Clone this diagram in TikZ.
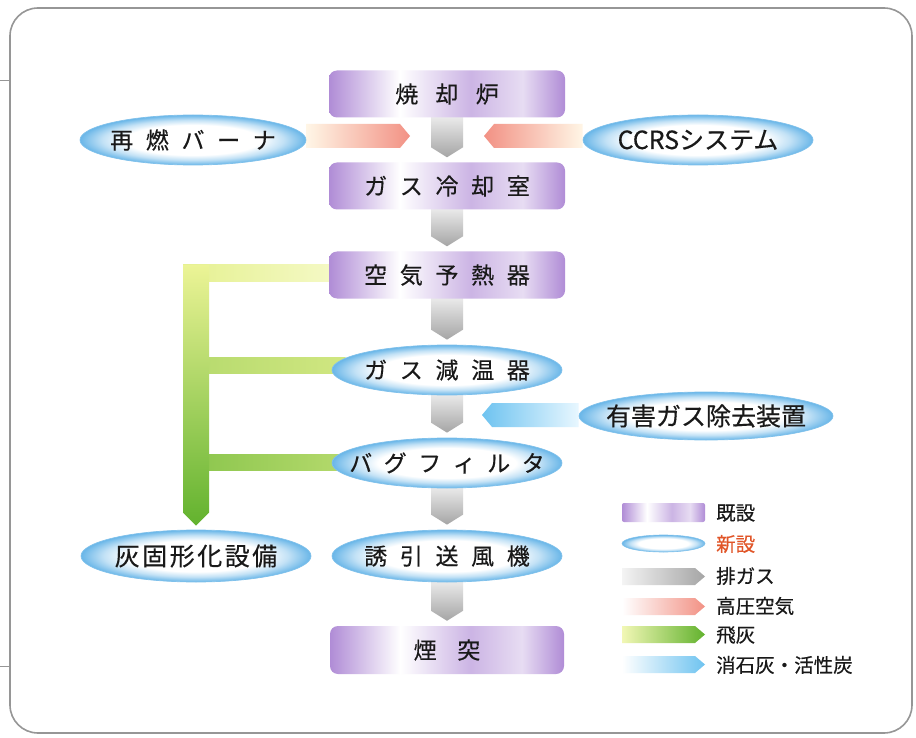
\documentclass[tikz,border=0pt]{standalone}
\usepackage{fontspec}
\setmainfont{Noto Sans CJK JP}[FakeBold=0.35]
\usetikzlibrary{shapes.geometric,calc,backgrounds}
\definecolor{pur}{RGB}{176,140,214}
\definecolor{ellb}{RGB}{105,182,232}
\definecolor{pinkc}{RGB}{242,145,132}
\definecolor{pinkl}{RGB}{255,246,230}
\definecolor{grnd}{RGB}{98,178,46}
\definecolor{grnl}{RGB}{236,244,150}
\definecolor{bluec}{RGB}{110,195,240}
\definecolor{bluel}{RGB}{232,247,255}
\definecolor{grayl}{RGB}{236,236,236}
\definecolor{grayd}{RGB}{165,165,165}
\definecolor{framec}{RGB}{150,150,150}
\definecolor{txt}{RGB}{25,25,25}
\definecolor{newc}{RGB}{225,85,40}
\pgfdeclarehorizontalshading{purp}{100bp}{color(0bp)=(pur); color(25bp)=(pur); color(40bp)=(white); color(55bp)=(pur!65); color(66bp)=(pur!30); color(75bp)=(pur); color(100bp)=(pur)}
\pgfdeclareradialshading{ellsh}{\pgfpoint{0bp}{0bp}}{color(0bp)=(white); color(15bp)=(white); color(20bp)=(ellb!40); color(25bp)=(ellb); color(50bp)=(ellb)}
\tikzset{
  oldbox/.style={rectangle, rounded corners=8pt, minimum width=236pt, minimum height=47pt, inner sep=0pt, shading=purp},
  newbox/.style={ellipse, minimum width=230pt, minimum height=50pt, inner sep=0pt, shading=ellsh, draw=ellb!85, line width=0.7pt},
  lbl/.style={text=txt, inner sep=0pt, font=\fontsize{23}{26}\selectfont},
  lblw/.style={text=txt, inner sep=0pt, font=\fontsize{25}{28}\selectfont},
  legtxt/.style={text=txt, inner sep=0pt, anchor=west, font=\fontsize{19.5}{22}\selectfont},
  gasfill/.style={top color=grayl, bottom color=grayd},
  pinkR/.style={left color=pinkl, right color=pinkc},
  pinkL/.style={left color=pinkc, right color=pinkl},
  blueL/.style={left color=bluec, right color=bluel},
}
% vertical exhaust-gas arrow between two nodes
\newcommand\gasarrow[2]{%
  \path[gasfill] ($(#1.south)+(-16,-2)$) -- ($(#1.south)+(16,-2)$) -- ($(#2.north)+(16,-15)$)
    -- ($(#2.north)+(0,-5)$) -- ($(#2.north)+(-16,-15)$) -- cycle;}
% horizontal arrow: #1 tail, #2 tip, #3 style, #4 signed tip depth
\newcommand\harrow[4]{%
  \path[#3] ($(#1)+(0,-12)$) -- ($(#2)+({-(#4)},-12)$) -- (#2) -- ($(#2)+({-(#4)},12)$) -- ($(#1)+(0,12)$) -- cycle;}
% legend arrow at height #1
\newcommand\legarrow[2]{%
  \path[#2] (622,{#1-8.5}) -- (695,{#1-8.5}) -- (705,#1) -- (695,{#1+8.5}) -- (622,{#1+8.5}) -- cycle;}
\begin{document}
\begin{tikzpicture}[x=1pt,y=-1pt]
\useasboundingbox (0,0) rectangle (916,738);
% ---------- main column ----------
\node[oldbox] (inc) at (447,94) {};
\node[lbl] (inct) at (inc) {焼\hspace{0.75em}却\hspace{0.75em}炉};
\node[oldbox] (cool) at (447,186) {};
\node[lbl] (coolt) at (cool) {ガ\hspace{0.55em}ス\hspace{0.55em}冷\hspace{0.55em}却\hspace{0.55em}室};
\node[oldbox] (aph) at (447,275) {};
\node[lbl] (apht) at (aph) {空\hspace{0.55em}気\hspace{0.55em}予\hspace{0.55em}熱\hspace{0.55em}器};
\node[newbox] (gtc) at (447,370) {};
\node[lbl] (gtct) at (gtc) {ガ\hspace{0.55em}ス\hspace{0.55em}減\hspace{0.55em}温\hspace{0.55em}器};
\node[newbox] (bf) at (447,463) {};
\node[lbl] (bft) at (bf) {バ\hspace{0.5em}グ\hspace{0.5em}フ\hspace{0.5em}ィ\hspace{0.5em}ル\hspace{0.5em}タ};
\node[newbox, minimum height=52pt] (idf) at (447,556) {};
\node[lbl] (idft) at (idf) {誘\hspace{0.55em}引\hspace{0.55em}送\hspace{0.55em}風\hspace{0.55em}機};
\node[oldbox, minimum width=234pt, minimum height=48pt] (stack) at (447,650) {};
\node[lbl] (stackt) at (stack) {煙\hspace{0.9em}突};
% ---------- side nodes ----------
\node[newbox, minimum width=226pt] (burner) at (193,140) {};
\node[lbl] (burnert) at (burner) {再\hspace{0.55em}燃\hspace{0.55em}バ\hspace{0.55em}ー\hspace{0.55em}ナ};
\node[newbox] (ccrs) at (698,140) {};
\node[lblw] (ccrst) at (ccrs) {CCRSシステム};
\node[newbox, minimum width=254pt, minimum height=48pt] (hgr) at (706,416) {};
\node[lblw] (hgrt) at (hgr) {有害ガス除去装置};
\node[newbox, minimum height=52pt] (ash) at (196,556) {};
\node[lblw] (asht) at (ash) {灰\hspace{0.1em}固\hspace{0.1em}形\hspace{0.1em}化\hspace{0.1em}設\hspace{0.1em}備};
% ---------- legend ----------
\node[oldbox, minimum width=83pt, minimum height=19pt, rounded corners=2pt] (lg1) at (663.5,512.5) {};
\node[legtxt] (lg1t) at (716,513) {既設};
\node[newbox, minimum width=83pt, minimum height=17pt, line width=0.6pt] (lg2) at (663.5,543.5) {};
\node[legtxt, text=newc] (lg2t) at (716,544) {新設};
\node[legtxt] (lg3t) at (716,576) {排ガス};
\node[legtxt] (lg4t) at (716,606) {高圧空気};
\node[legtxt] (lg5t) at (716,635) {飛灰};
\node[legtxt] (lg6t) at (716,665) {消石灰・活性炭};
% ---------- connectors (behind nodes) ----------
\coordinate (pkL) at (410,136);
\coordinate (pkL0) at (burner.east |- pkL);
\coordinate (pkR) at (484,136);
\coordinate (pkR0) at (ccrs.west |- pkR);
\coordinate (blT) at (482,415);
\coordinate (blT0) at (hgr.west |- blT);
\coordinate (gTip) at ($(ash.north)+(0,-4)$);
\begin{scope}[on background layer]
  \fill[white] (0,0) rectangle (916,738);
  \draw[framec, line width=1.6pt, rounded corners=28pt] (10,8) rectangle (912,733);
  \draw[framec, line width=0.8pt] (0,80) -- (10,80);
  \draw[framec, line width=0.8pt] (0,666) -- (10,666);
  % exhaust gas
  \gasarrow{inc}{cool}
  \gasarrow{cool}{aph}
  \gasarrow{aph}{gtc}
  \gasarrow{gtc}{bf}
  \gasarrow{bf}{idf}
  \gasarrow{idf}{stack}
  % high-pressure air
  \harrow{pkL0}{pkL}{pinkR}{10}
  \harrow{pkR0}{pkR}{pinkL}{-10}
  % slaked lime / activated carbon
  \harrow{blT0}{blT}{blueL}{-10}
  % fly ash
  \path[left color=grnl!95!grnd, right color=grnl!55!white] (183,265) rectangle ($(aph.west)+(4,7)$);
  \path[left color=grnd!40!grnl, right color=grnd!20!grnl] (183,357) rectangle ($(gtc.west)+(14,3)$);
  \path[left color=grnd!72!grnl, right color=grnd!40!grnl] (183,454) rectangle ($(bf.west)+(14,7)$);
  \path[top color=grnl, bottom color=grnd] (183,265) -- (209,265) -- ($(gTip)+(13,-13)$) -- (gTip) -- ($(gTip)+(-13,-13)$) -- cycle;
  % legend arrows
  \legarrow{576.5}{left color=grayl!60!white, right color=grayd}
  \legarrow{606.5}{left color=white, right color=pinkc}
  \legarrow{634.5}{left color=grnl!70!white, right color=grnd}
  \legarrow{664.5}{left color=white, right color=bluec}
\end{scope}
\end{tikzpicture}
\end{document}
